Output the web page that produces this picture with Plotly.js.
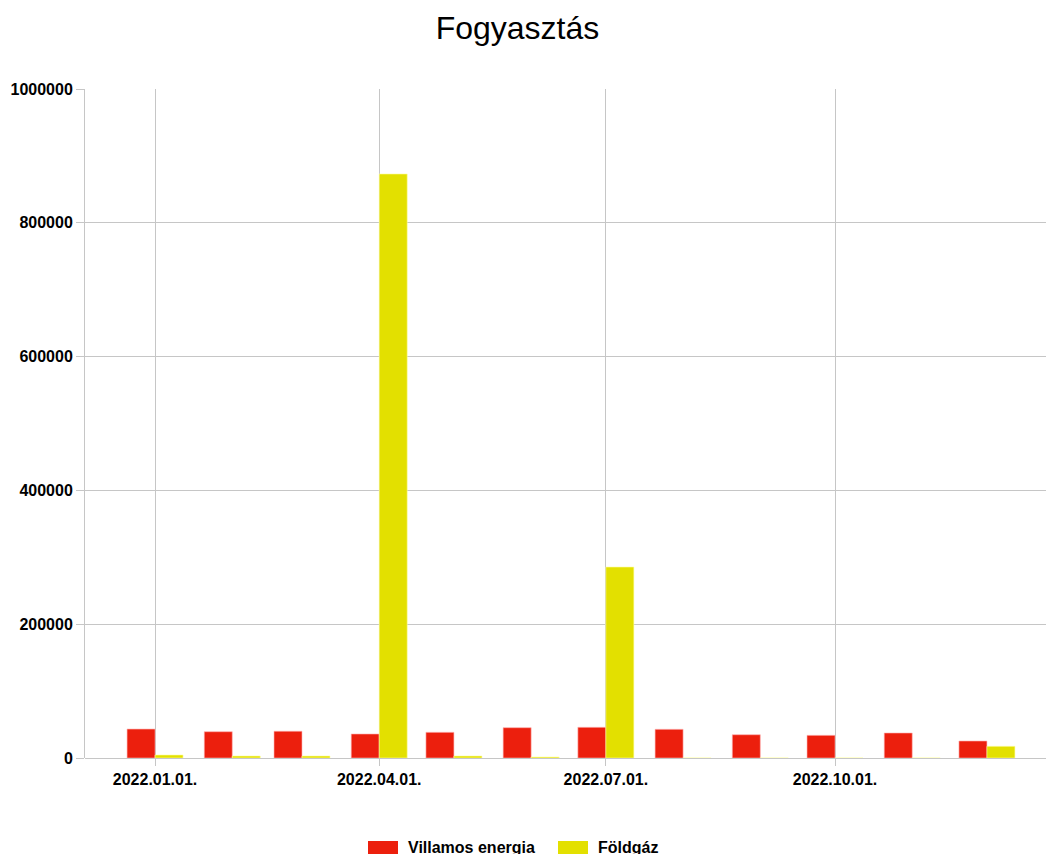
<!DOCTYPE html>
<html>
<head>
<meta charset="utf-8">
<script src="https://cdn.plot.ly/plotly-3.0.1.min.js"></script>
<style>html,body{margin:0;padding:0;background:#fff;}#chart{width:1046px;height:854px;}</style>
</head>
<body>
<div id="chart"></div>
<script>
var months = ['2022-01-01','2022-02-01','2022-03-01','2022-04-01','2022-05-01','2022-06-01','2022-07-01','2022-08-01','2022-09-01','2022-10-01','2022-11-01','2022-12-01'];
var villamos = [43300, 39300, 40000, 35900, 38400, 45300, 45900, 42900, 34800, 33900, 37400, 25400];
var foldgaz = [4500, 3000, 3000, 873000, 3000, 1500, 285500, 0, 0, 0, 0, 17500];
var seriesNames = ['Villamos energia', 'Földgáz'];
var tickDates = ['2022-01-01','2022-04-01','2022-07-01','2022-10-01'];
var tickLabels = ['2022.01.01.','2022.04.01.','2022.07.01.','2022.10.01.'];
var colors = ['#ec1f0d', '#e3e000'];

var barW = 11.24 * 86400000;
var font = 'Liberation Sans, Arial, sans-serif';

var traces = [
  {type:'bar', x:months, y:villamos, name:seriesNames[0], width:barW, offset:-barW,
   marker:{color:colors[0], line:{color:'rgba(255,180,180,0.6)', width:1}}, showlegend:false},
  {type:'bar', x:months, y:foldgaz, name:seriesNames[1], width:barW, offset:0,
   marker:{color:colors[1], line:{color:'rgba(255,255,160,0.6)', width:1}}, showlegend:false}
];

var layout = {
  width:1046, height:854,
  margin:{l:85, r:0, t:89, b:96},
  paper_bgcolor:'#fff', plot_bgcolor:'#fff',
  barmode:'overlay',
  title:{text:'Fogyasztás', font:{family:font, size:32, color:'#000'}, x:0.4947, xanchor:'center', y:0.968, yanchor:'middle'},
  xaxis:{type:'date', range:['2021-12-03 21:00','2022-12-24 17:00'],
    tickmode:'array', tickvals:tickDates, ticktext:tickLabels,
    showgrid:true, gridcolor:'#c6c6c6', gridwidth:1,
    ticks:'outside', ticklen:7, tickcolor:'#c6c6c6',
    showline:false, zeroline:false,
    tickfont:{family:font, size:16, color:'#000', weight:'bold'}},
  yaxis:{range:[0,1000000], tickmode:'array', tickvals:[0,200000,400000,600000,800000,1000000],
    tickformat:'d', showgrid:true, gridcolor:'#c6c6c6', gridwidth:1,
    ticks:'outside', ticklen:8, tickcolor:'#c6c6c6',
    showline:true, linecolor:'#c6c6c6', linewidth:1,
    zeroline:true, zerolinecolor:'#c6c6c6', zerolinewidth:1,
    tickfont:{family:font, size:16, color:'#000', weight:'bold'}},
  shapes:[
    {type:'rect', xref:'paper', yref:'paper', x0:(368-85)/961, x1:(398-85)/961, y0:-96/669, y1:-83/669, fillcolor:colors[0], line:{width:0}},
    {type:'rect', xref:'paper', yref:'paper', x0:(558-85)/961, x1:(588-85)/961, y0:-96/669, y1:-83/669, fillcolor:colors[1], line:{width:0}}
  ],
  annotations:[
    {xref:'paper', yref:'paper', x:(406-85)/961, y:-83/669, xanchor:'left', yanchor:'top', showarrow:false, text:seriesNames[0],
     font:{family:font, size:16, color:'#000', weight:'bold'}, yshift:4},
    {xref:'paper', yref:'paper', x:(596-85)/961, y:-83/669, xanchor:'left', yanchor:'top', showarrow:false, text:seriesNames[1],
     font:{family:font, size:16, color:'#000', weight:'bold'}, yshift:4}
  ]
};

Plotly.newPlot('chart', traces, layout, {displayModeBar:false, staticPlot:true});
</script>
</body>
</html>
